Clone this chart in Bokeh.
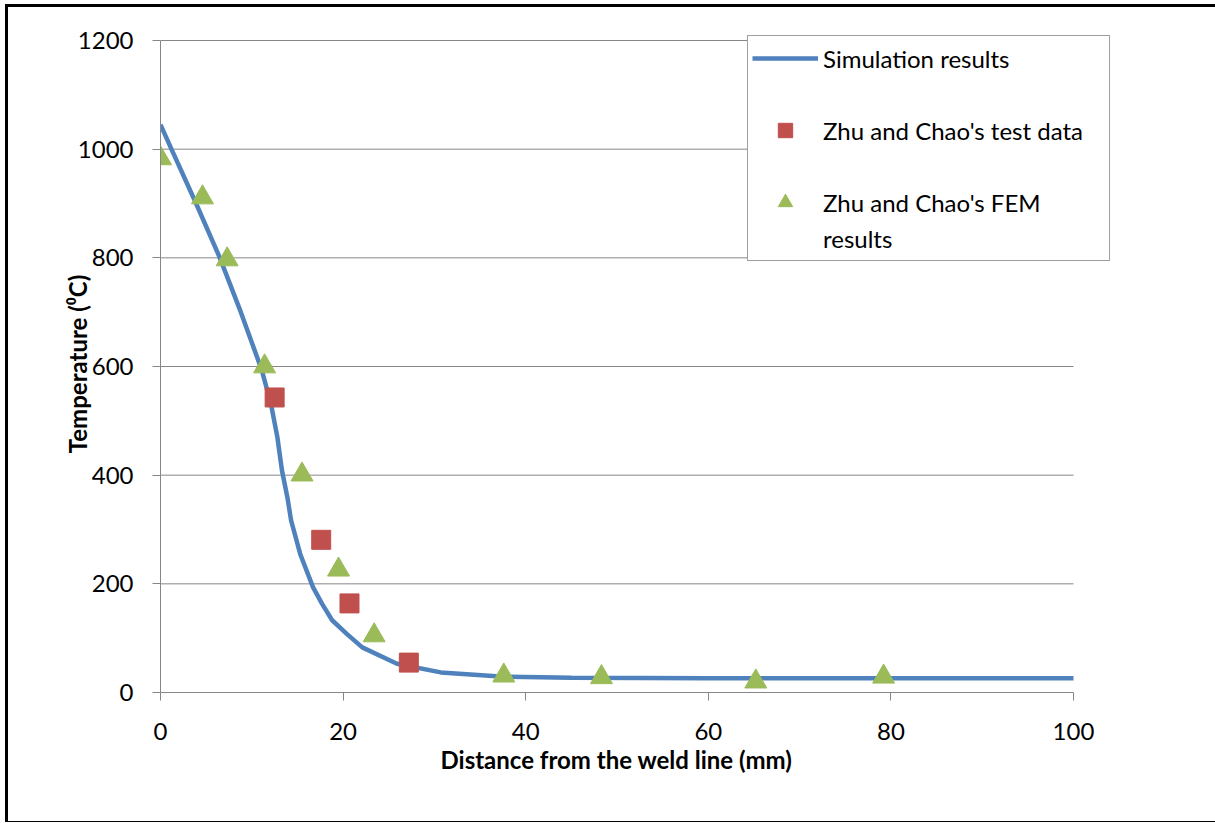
from bokeh.plotting import figure
from bokeh.models import Range1d, FixedTicker, Legend, LegendItem, Title
from bokeh.embed import file_html
from bokeh.resources import INLINE

# --- data ---
sim_x = [0, 1.2, 3.9, 6.5, 8.8, 11.1, 12.1, 12.8, 13.3, 13.9, 14.3, 15.3, 16.7, 17.7, 18.8, 20.4, 22.1, 25.9, 30.7, 37.6, 45, 60, 80, 100]
sim_y = [1045, 1000, 900, 800, 700, 593, 531, 470, 409, 359, 317, 255, 194, 163, 133, 108, 83, 53, 37, 29, 27, 26, 26, 26]

test_x = [12.5, 17.6, 20.7, 27.2]
test_y = [543, 281, 164, 55]

fem_x = [0, 4.6, 7.3, 11.4, 15.5, 19.5, 23.4, 37.6, 48.3, 65.2, 79.2]
fem_y = [983, 911, 797, 600, 401, 226, 105, 31, 28, 20, 29]

x_ticks = [0, 20, 40, 60, 80, 100]
y_ticks = [0, 200, 400, 600, 800, 1000, 1200]
x_max = 100
y_max = 1200

x_title = "Distance from the weld line (mm)"
y_title = "Temperature (\u2070C)"
labels = ["Simulation results", "Zhu and Chao's test data", "Zhu and Chao's FEM", "results"]

FONT = "Lato"
GRAY = "#868686"
FS = "24px"

# frame is a bit larger than the axes so the legend (which overhangs) is not clipped
px_x = 913 / x_max      # pixels per x unit
px_y = 652 / y_max      # pixels per y unit
FW, FH = 952, 657

p = figure(
    output_backend="svg", toolbar_location=None,
    frame_width=FW, frame_height=FH,
    min_border_left=152, min_border_top=28, min_border_right=103, min_border_bottom=129,
    x_range=Range1d(0, FW / px_x), y_range=Range1d(0, FH / px_y),
)
p.styles = {
    "margin-left": "5px", "margin-top": "4px",
    "border-left": "3px solid black", "border-top": "3px solid black",
    "border-bottom": "1px solid black",
}
p.background_fill_color = "white"
p.border_fill_color = "white"
p.outline_line_color = None

p.xgrid.visible = False
p.ygrid.visible = False
p.xaxis.ticker = FixedTicker(ticks=x_ticks)
p.yaxis.ticker = FixedTicker(ticks=y_ticks)
p.xaxis.bounds = (0, x_max)
p.yaxis.bounds = (0, y_max)

# horizontal gridlines spanning only the axis extent
grid_y = y_ticks[1:]
p.segment(x0=[0] * len(grid_y), y0=grid_y, x1=[x_max] * len(grid_y), y1=grid_y,
          line_color=GRAY, line_width=1)

for ax in (p.xaxis[0], p.yaxis[0]):
    ax.axis_line_color = GRAY
    ax.major_tick_line_color = GRAY
    ax.major_tick_out = 8
    ax.major_tick_in = 0
    ax.minor_tick_line_color = None
    ax.major_label_text_font = FONT
    ax.major_label_text_font_size = FS
    ax.major_label_text_color = "black"
    ax.axis_label_text_font = FONT
    ax.axis_label_text_font_size = FS
    ax.axis_label_text_font_style = "bold"
    ax.axis_label_text_color = "black"

p.yaxis.axis_label = y_title
p.xaxis.major_label_standoff = 22
p.yaxis.major_label_standoff = 19
p.yaxis.axis_label_standoff = -17

xt = Title(text=x_title, align="left", offset=280, standoff=0,
           text_font=FONT, text_font_size=FS, text_font_style="bold", text_color="black")
p.add_layout(xt, "below")

r_sim = p.line(sim_x, sim_y, line_color="#4F81BD", line_width=4.5)
r_test = p.scatter(test_x, test_y, marker="square", size=19,
                   fill_color="#C0504D", line_color="#C0504D")
r_fem = p.scatter(fem_x, fem_y, marker="triangle", size=22,
                  fill_color="#9BBB59", line_color="#9BBB59")
r_blank = p.line([], [], line_alpha=0)

legend = Legend(
    items=[
        LegendItem(label=labels[0], renderers=[r_sim]),
        LegendItem(label=" ", renderers=[r_blank]),
        LegendItem(label=labels[1], renderers=[r_test]),
        LegendItem(label=" ", renderers=[r_blank]),
        LegendItem(label=labels[2], renderers=[r_fem]),
        LegendItem(label=labels[3], renderers=[r_blank]),
    ],
    location=(587, 431),
    glyph_width=66, glyph_height=36, label_height=36,
    label_standoff=5, label_width=282,
    spacing=0, padding=4, margin=0,
    border_line_color="#404040", border_line_width=1,
    background_fill_color="white", background_fill_alpha=1,
    label_text_font=FONT, label_text_font_size=FS, label_text_color="black",
)
p.add_layout(legend, "center")

open("out.html", "w").write(file_html(p, INLINE))
